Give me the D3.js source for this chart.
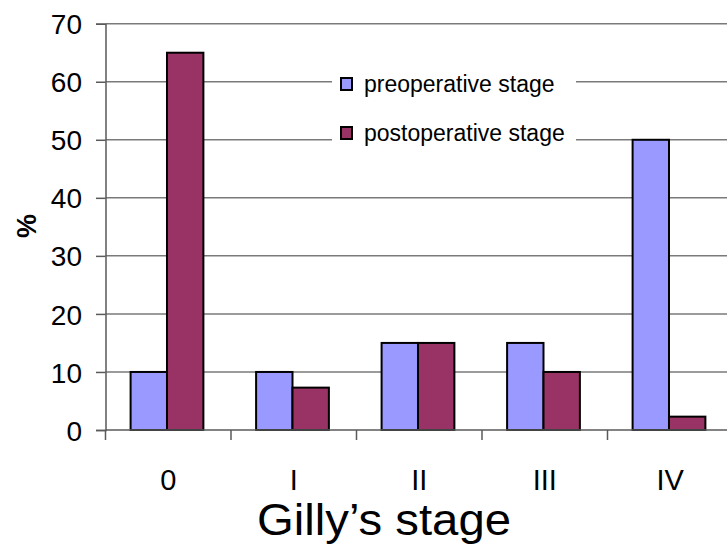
<!DOCTYPE html>
<html>
<head>
<meta charset="utf-8">
<script src="https://cdn.jsdelivr.net/npm/d3@7"></script>
<style>
  html, body { margin: 0; padding: 0; background: #fff; }
  svg { display: block; font-family: "Liberation Sans", Arial, sans-serif; }
</style>
</head>
<body>
<svg id="chart" width="727" height="548"></svg>
<script>
// Gilly's stage distribution before and after surgery (%)
const categories = ["0", "I", "II", "III", "IV"];
const seriesNames = ["preoperative stage", "postoperative stage"];
const preoperative = [10, 10, 15, 15, 50];
const postoperative = [65, 7.3, 15, 10, 2.3];
const yTicks = [0, 10, 20, 30, 40, 50, 60, 70];
const colors = ["#9999ff", "#993366"];

const svg = d3.select("#chart");
const plotLeft = 105.5, plotRight = 733, plotTop = 23.7, plotBottom = 430;

const x = d3.scaleBand().domain(categories).range([plotLeft, plotRight]).padding(0);
const bw = x.bandwidth();
const x1 = d3.scaleBand().domain(seriesNames).range([bw * 0.2, bw * 0.78]).padding(0);
const y = d3.scaleLinear().domain([0, 70]).range([plotBottom, plotTop]);

// horizontal gridlines
svg.append("g").selectAll("line")
  .data(yTicks.filter(d => d > 0))
  .join("line")
  .attr("x1", plotLeft).attr("x2", 727)
  .attr("y1", d => y(d)).attr("y2", d => y(d))
  .attr("stroke", "#7a7a7a").attr("stroke-width", 1.5);

// y axis
const yAxis = svg.append("g")
  .attr("transform", `translate(${plotLeft},0)`)
  .call(d3.axisLeft(y).tickValues(yTicks).tickSize(9.5).tickPadding(14).tickFormat(d3.format("d")));
yAxis.select(".domain").attr("stroke", "#5a5a5a").attr("stroke-width", 1.5);
yAxis.selectAll(".tick line").attr("stroke", "#5a5a5a").attr("stroke-width", 1.5);
yAxis.selectAll(".tick text")
  .attr("font-size", 28).attr("fill", "#000")
  .attr("font-family", "Liberation Sans, Arial, sans-serif")
  .attr("dy", "0.36em");

// bars
const data = categories.map((c, i) => ({ cat: c, values: [preoperative[i], postoperative[i]] }));
svg.append("g").selectAll("g")
  .data(data)
  .join("g")
  .attr("transform", d => `translate(${x(d.cat)},0)`)
  .selectAll("rect")
  .data(d => d.values.map((v, j) => ({ name: seriesNames[j], v, j })))
  .join("rect")
  .attr("x", d => x1(d.name))
  .attr("width", x1.bandwidth())
  .attr("y", d => y(d.v))
  .attr("height", d => y(0) - y(d.v))
  .attr("fill", d => colors[d.j])
  .attr("stroke", "#000").attr("stroke-width", 2);

// x axis
const xAxis = svg.append("g")
  .attr("transform", `translate(0,${plotBottom})`);
xAxis.append("line")
  .attr("x1", plotLeft).attr("x2", 727)
  .attr("stroke", "#5a5a5a").attr("stroke-width", 1.5);
xAxis.selectAll(".sep")
  .data(categories)
  .join("line")
  .attr("class", "sep")
  .attr("x1", d => x(d)).attr("x2", d => x(d))
  .attr("y1", 0).attr("y2", 10)
  .attr("stroke", "#5a5a5a").attr("stroke-width", 1.5);
xAxis.selectAll(".cat")
  .data(categories)
  .join("text")
  .attr("class", "cat")
  .attr("x", d => x(d) + bw / 2)
  .attr("y", 60)
  .attr("text-anchor", "middle")
  .attr("font-size", 29)
  .attr("fill", "#000")
  .text(d => d);

// axis titles
svg.append("text")
  .attr("x", 384).attr("y", 535)
  .attr("text-anchor", "middle")
  .attr("font-size", 45)
  .attr("textLength", 254).attr("lengthAdjust", "spacingAndGlyphs")
  .attr("fill", "#000")
  .text("Gilly’s stage");

svg.append("text")
  .attr("transform", "translate(36,226) rotate(-90)")
  .attr("text-anchor", "middle")
  .attr("font-size", 27).attr("font-weight", "bold")
  .attr("fill", "#000")
  .text("%");

// legend
const legend = svg.append("g");
legend.append("rect")
  .attr("x", 332).attr("y", 60).attr("width", 244).attr("height", 96)
  .attr("fill", "#fff");
const rows = [84, 133];
seriesNames.forEach((name, i) => {
  legend.append("rect")
    .attr("x", 341).attr("y", rows[i] - 6).attr("width", 11).attr("height", 12)
    .attr("fill", colors[i]).attr("stroke", "#000").attr("stroke-width", 2);
  legend.append("text")
    .attr("x", 364).attr("y", rows[i])
    .attr("dy", "0.33em")
    .attr("font-size", 23)
    .attr("fill", "#000")
    .text(name);
});
</script>
</body>
</html>
